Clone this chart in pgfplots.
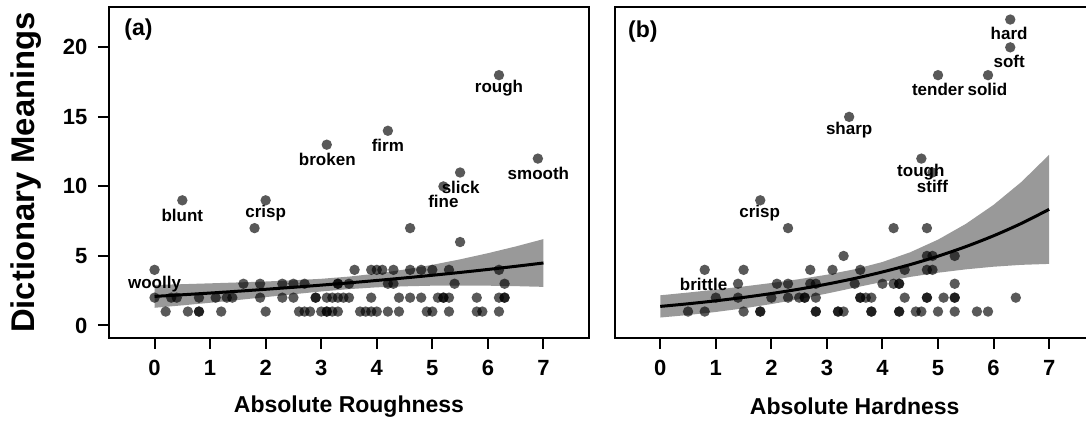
\documentclass[border=0pt]{standalone}
\usepackage{pgfplots}
\pgfplotsset{compat=1.18}
\usepackage{fontspec}
\setmainfont{Liberation Sans}
\definecolor{bandgray}{RGB}{153,153,153}
\pgfplotsset{
  myaxis/.style={
    scale only axis, width=240pt, height=165.2pt,
    xmin=-0.82, xmax=7.82, ymin=-0.88, ymax=22.88,
    axis line style={line width=1pt},
    every tick/.style={line width=1pt, black},
    major tick length=5.6pt,
    tick align=outside,
    xtick={0,1,2,3,4,5,6,7}, xtick pos=bottom, ytick pos=left,
    ytick={0,5,10,15,20},
    /pgf/number format/assume math mode=true,
    ticklabel style={font=\bfseries\fontsize{11}{13}\selectfont},
    xticklabel style={yshift=-2pt},
    yticklabel style={xshift=-1.7pt},
    every axis x label/.style={at={([yshift=-34.5pt]axis description cs:0.5,0)}, anchor=center, font=\bfseries\fontsize{11.5}{14}\selectfont},
    every axis y label/.style={at={([xshift=-41.5pt]axis description cs:0,0.5)}, rotate=90, anchor=center, font=\bfseries\fontsize{16.4}{19}\selectfont},
  },
  pts/.style={only marks, mark=*, mark size=2.6pt, color=black, mark options={solid, fill=black, fill opacity=0.65, draw opacity=0, line width=0pt}},
  band/.style={fill=bandgray, draw=none},
  fit/.style={black, line width=1.5pt, smooth},
}
\tikzset{
  lab/.style={font=\bfseries\fontsize{8.5}{10}\selectfont, inner sep=0pt, anchor=center},
  pan/.style={font=\bfseries\fontsize{11.5}{14}\selectfont, inner sep=0pt, anchor=west},
}
\begin{document}
\begin{tikzpicture}
\path[use as bounding box] (0,0) rectangle (543pt,212pt);
\clip (0,0) rectangle (543pt,212pt);
% ---------- panel (a)
\begin{axis}[myaxis, at={(54.5pt,43.15pt)}, anchor=south west,
  xlabel={Absolute Roughness}, ylabel={Dictionary Meanings}]
\addplot[band] coordinates {(0,2.909) (0.5,2.968) (1,3.030) (1.5,3.094) (2,3.162) (2.5,3.248) (3,3.356) (3.5,3.514) (4,3.732) (4.5,4.021) (5,4.360) (5.5,4.755) (6,5.196) (6.5,5.680) (7,6.210)
 (7,2.776) (6.5,2.828) (6,2.860) (5.5,2.871) (5,2.860) (4.5,2.815) (4,2.742) (3.5,2.614) (3,2.446) (2.5,2.246) (2,2.040) (1.5,1.830) (1,1.632) (0.5,1.446) (0,1.271)} -- cycle;
\addplot[pts] coordinates {
(0.2,1) (0.6,1) (0.8,1) (0.8,1) (1.2,1) (2.0,1) (2.6,1) (2.7,1) (2.8,1) (3.0,1) (3.1,1) (3.1,1) (3.2,1) (3.3,1) (3.7,1) (3.8,1) (3.9,1) (4.0,1) (4.2,1) (4.4,1) (4.9,1) (5.0,1) (5.3,1) (5.8,1) (5.9,1) (6.2,1)
(0,2) (0.3,2) (0.4,2) (0.8,2) (1.1,2) (1.3,2) (1.4,2) (1.9,2) (2.3,2) (2.5,2) (2.9,2) (2.9,2) (3.1,2) (3.2,2) (3.3,2) (3.4,2) (3.5,2) (3.9,2) (4.4,2) (4.6,2) (4.8,2) (5.1,2) (5.2,2) (5.2,2) (5.3,2) (5.8,2) (6.2,2) (6.3,2) (6.3,2)
(1.6,3) (1.9,3) (2.3,3) (2.5,3) (2.7,3) (3.3,3) (3.3,3) (3.5,3) (4.2,3) (4.3,3) (5.4,3) (6.3,3)
(0,4) (3.6,4) (3.9,4) (4.0,4) (4.1,4) (4.3,4) (4.6,4) (4.8,4) (5.0,4) (5.3,4) (6.2,4)
(0.5,9) (2.0,9) (1.8,7) (3.1,13) (4.2,14) (4.6,7) (5.2,10) (5.5,11) (5.5,6) (6.2,18) (6.9,12)};
\addplot[fit] coordinates {(0,2.09) (0.5,2.207) (1,2.331) (1.5,2.462) (2,2.601) (2.5,2.747) (3,2.901) (3.5,3.064) (4,3.237) (4.5,3.418) (5,3.610) (5.5,3.813) (6,4.028) (6.5,4.254) (7,4.493)};
\node[lab] at (axis cs:0,2.96) {woolly};
\node[lab] at (axis cs:0.5,7.94) {blunt};
\node[lab] at (axis cs:2.0,8.06) {crisp};
\node[lab] at (axis cs:3.11,11.92) {broken};
\node[lab] at (axis cs:4.2,12.95) {firm};
\node[lab] at (axis cs:6.2,17.09) {rough};
\node[lab] at (axis cs:5.51,9.94) {slick};
\node[lab] at (axis cs:5.2,8.9) {fine};
\node[lab] at (axis cs:6.91,10.95) {smooth};
\node[pan] at ([xshift=7.5pt,yshift=-11.35pt]rel axis cs:0,1) {(a)};
\end{axis}
% ---------- panel (b)
\begin{axis}[myaxis, at={(307.35pt,43.15pt)}, anchor=south west,
  ytick=\empty, xlabel={Absolute Hardness}]
\addplot[band] coordinates {(0,2.17) (0.5,2.367) (1,2.578) (1.5,2.805) (2,3.053) (2.5,3.330) (3,3.650) (3.5,4.044) (4,4.565) (4.5,5.265) (5,6.172) (5.5,7.303) (6,8.675) (6.5,10.319) (7,12.274)
 (7,4.428) (6.5,4.359) (6,4.225) (5.5,4.035) (5,3.792) (4.5,3.493) (4,3.132) (3.5,2.720) (3,2.296) (2.5,1.895) (2,1.539) (1.5,1.231) (1,0.970) (0.5,0.751) (0,0.570)} -- cycle;
\addplot[pts] coordinates {
(0.5,1) (0.8,1) (1.5,1) (1.8,1) (1.8,1) (2.8,1) (2.8,1) (3.2,1) (3.2,1) (3.3,1) (3.8,1) (3.8,1) (4.3,1) (4.3,1) (4.6,1) (4.7,1) (5.0,1) (5.3,1) (5.7,1) (5.9,1)
(1.0,2) (1.4,2) (2.0,2) (2.3,2) (2.5,2) (2.6,2) (2.6,2) (2.8,2) (3.6,2) (3.6,2) (3.7,2) (3.8,2) (4.4,2) (4.8,2) (4.8,2) (5.1,2) (5.3,2) (5.3,2) (6.4,2)
(1.4,3) (2.1,3) (2.3,3) (2.7,3) (2.8,3) (3.5,3) (4.0,3) (4.2,3) (4.3,3) (4.3,3) (5.3,3)
(0.8,4) (1.5,4) (2.7,4) (3.1,4) (3.6,4) (4.4,4) (4.8,4) (4.9,4)
(3.3,5) (4.8,5) (4.9,5) (5.3,5)
(6.3,22) (6.3,20) (5.0,18) (5.9,18) (3.4,15) (4.7,12) (4.9,11) (1.8,9) (2.3,7) (4.2,7) (4.8,7)};
\addplot[fit] coordinates {(0,1.37) (0.5,1.559) (1,1.774) (1.5,2.018) (2,2.296) (2.5,2.613) (3,2.973) (3.5,3.382) (4,3.848) (4.5,4.379) (5,4.982) (5.5,5.669) (6,6.450) (6.5,7.339) (7,8.351)};
\node[lab] at (axis cs:6.28,20.99) {hard};
\node[lab] at (axis cs:6.28,18.97) {soft};
\node[lab] at (axis cs:5.0,16.97) {tender};
\node[lab] at (axis cs:5.89,16.97) {solid};
\node[lab] at (axis cs:3.4,14.03) {sharp};
\node[lab] at (axis cs:4.69,11.0) {tough};
\node[lab] at (axis cs:4.9,9.99) {stiff};
\node[lab] at (axis cs:1.79,8.06) {crisp};
\node[lab] at (axis cs:0.78,2.96) {brittle};
\node[pan] at ([xshift=6.5pt,yshift=-12pt]rel axis cs:0,1) {(b)};
\end{axis}
\end{tikzpicture}
\end{document}
